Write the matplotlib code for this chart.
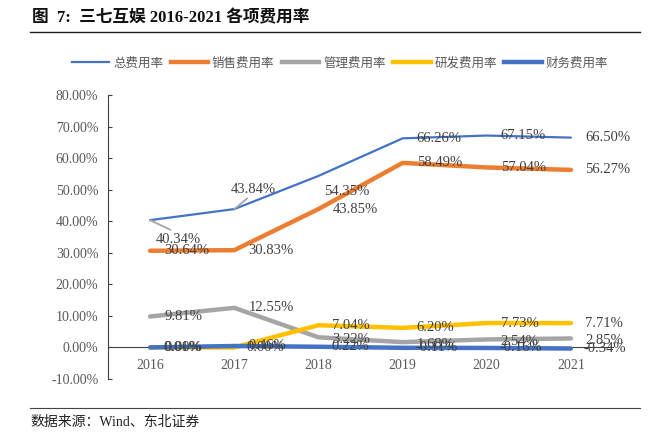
import matplotlib
matplotlib.use("Agg")
import matplotlib.pyplot as plt
from matplotlib.lines import Line2D

years = ["2016", "2017", "2018", "2019", "2020", "2021"]
total = [40.34, 43.84, 54.35, 66.26, 67.15, 66.50]
sales = [30.64, 30.83, 43.85, 58.49, 57.04, 56.27]
admin = [9.81, 12.55, 3.22, 1.68, 2.54, 2.85]
rnd = [0.00, 0.00, 7.04, 6.20, 7.73, 7.71]
finance = [0.01, 0.46, 0.22, -0.11, -0.16, -0.34]
names = ["总费用率", "销售费用率", "管理费用率", "研发费用率", "财务费用率"]
yticks = [-10, 0, 10, 20, 30, 40, 50, 60, 70, 80]

colors = ["#4472C4", "#ED7D31", "#A5A5A5", "#FFC000", "#4472C4"]
widths = [1.6, 3.2, 3.2, 3.2, 3.2]
series = [total, sales, admin, rnd, finance]

serif = ["Liberation Serif", "Noto Sans CJK SC"]
cjk = ["Noto Sans CJK SC", "DejaVu Sans"]

fig = plt.figure(figsize=(6.68, 4.44), dpi=100)
ax = fig.add_axes([108/668, 1-379/444, (613-108)/668, (379-95)/444])

for s in ["top", "right"]:
    ax.spines[s].set_visible(False)
ax.spines["bottom"].set_position(("data", 0))
ax.spines["bottom"].set_color("#404040")
ax.spines["left"].set_color("#404040")
ax.spines["bottom"].set_zorder(2)

x = list(range(len(years)))
for vals, c, w in zip(series, colors, widths):
    ax.plot(x, vals, color=c, lw=w, solid_capstyle="round", zorder=3)

ax.set_xlim(-0.5, len(years) - 0.5)
ax.set_ylim(-10, 80)
ax.set_yticks(yticks)
ax.set_yticklabels([f"{v:.2f}%" for v in yticks], fontfamily=serif, fontsize=10, color="#595959")
ax.set_xticks(x)
ax.set_xticklabels(years, fontfamily=serif, fontsize=10, color="#595959")
ax.tick_params(axis="x", length=0, pad=8)
ax.tick_params(axis="y", direction="in", length=3, color="#404040", pad=7)

px = 1 / 1.389  # pixel -> points at dpi 100
lab_kw = dict(textcoords="offset points", ha="left", va="center",
              fontfamily=serif, fontsize=10.5, color="#404040", zorder=5)

def default_label(i, v, dx=13, dy=0):
    ax.annotate(f"{v:.2f}%", (i, v), xytext=(dx*px, dy*px), **lab_kw)

leader = dict(arrowstyle="-", color="#A6A6A6", lw=1.3, shrinkA=0, shrinkB=0)
ax.annotate(f"{total[0]:.2f}%", (0, total[0]), xytext=(6*px, -19*px),
            arrowprops=dict(leader, relpos=(0.45, 1.0)), **lab_kw)
ax.annotate(f"{total[1]:.2f}%", (1, total[1]), xytext=(-4*px, 20*px),
            arrowprops=dict(leader, relpos=(0.45, 0.0)), **lab_kw)
ax.annotate(f"{total[2]:.2f}%", (2, total[2]), xytext=(6*px, -16*px), **lab_kw)
for i in range(3, 6):
    default_label(i, total[i], 14)

for i, v in enumerate(sales):
    default_label(i, v, 14)
for i, v in enumerate(admin):
    default_label(i, v, 14, 0 if i < 2 else -2)
for i, v in enumerate(rnd):
    default_label(i, v, 14 if i != 1 else 12)
for i, v in enumerate(finance):
    default_label(i, v, 13 if i != 1 else 14)

handles = [Line2D([], [], color=c, lw=w) for c, w in zip(colors, widths)]
fig.legend(handles, names, loc="center", bbox_to_anchor=(340/668, 1-63/444), ncol=5,
           frameon=False, prop={"family": cjk, "size": 9}, labelcolor="#595959",
           handlelength=3.0, handletextpad=0.3, columnspacing=0.6)

fig.text(32/668, 1-18/444, "图  7:  三七互娱 2016-2021 各项费用率", fontfamily=serif,
         fontsize=12, fontweight="bold", va="center", ha="left", color="#111111")
fig.add_artist(Line2D([30/668, 640/668], [1-32/444, 1-32/444], color="#222222", lw=1.0))
fig.add_artist(Line2D([30/668, 640/668], [1-408/444, 1-408/444], color="#444444", lw=0.8))
fig.text(30/668, 1-422/444, "数据来源：Wind、东北证券", fontfamily=serif, fontsize=10,
         va="center", ha="left", color="#222222")

fig.savefig("out.png", dpi=100)
